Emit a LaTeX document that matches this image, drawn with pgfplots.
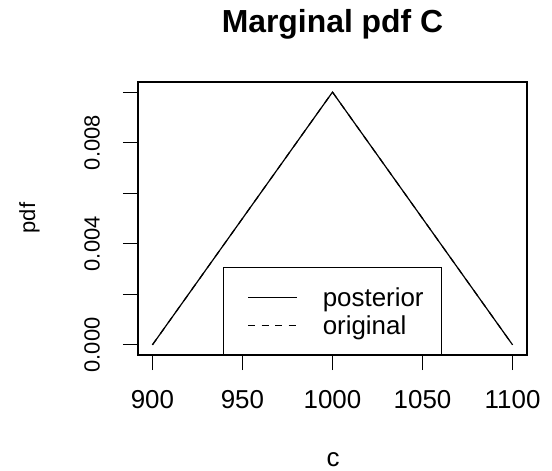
\documentclass[border=0pt]{standalone}
\usepackage{fontspec}
\setmainfont{Liberation Sans}
\usepackage{pgfplots}
\pgfplotsset{compat=1.18}
\newcommand{\fs}[1]{\fontsize{#1}{#1}\selectfont}
\begin{document}
\begin{tikzpicture}
\useasboundingbox (0,0) rectangle (552bp,471bp);
\begin{axis}[
    at={(138bp,116bp)}, anchor=south west,
    scale only axis, width=389bp, height=273bp,
    xmin=892, xmax=1108, ymin=-0.0004, ymax=0.0104,
    xtick={900,950,1000,1050,1100},
    xticklabels={900,950,1000,1050,1100},
    ytick={0,0.002,0.004,0.006,0.008,0.01},
    yticklabels={0.000,,0.004,,0.008,},
    scaled y ticks=false, scaled x ticks=false,
    /pgf/number format/assume math mode=true,
    axis line style={line width=1.1bp},
    every tick/.style={line width=1.1bp, black},
    tick align=outside, major tick length=15bp,
    xtick pos=bottom, ytick pos=left,
    xticklabel style={font=\fs{26}, anchor=north, inner sep=0pt},
    xticklabel shift=20bp,
    yticklabel style={font=\fs{22}, rotate=90, anchor=south, inner sep=0pt},
    yticklabel shift=23bp,
    legend style={at={(0.5,0)}, anchor=south, draw=black, line width=1.1bp,
        fill=white, inner xsep=0pt, inner ysep=15.5bp, row sep=0pt,
        font=\fs{26},
        cells={anchor=base west},
        nodes={inner sep=0pt, text width=119bp, text height=23.5bp, text depth=4.5bp},
        /tikz/every odd column/.append style={column sep=25bp}},
    legend image code/.code={
        \path[draw=none] (0bp,0bp) rectangle (74bp,9bp);
        \draw[#1] (25bp,9bp) -- (74bp,9bp);},
]
\addplot[black, line width=1.2bp] coordinates {(900,0) (1000,0.01) (1100,0)};
\addlegendentry{posterior}
\addplot[black, line width=1.2bp, dash pattern=on 7bp off 6.5bp] coordinates {(900,0) (1000,0.01) (1100,0)};
\addlegendentry{original}
\end{axis}
\node[anchor=base, font=\bfseries\fs{32}] at (332.5bp,438bp) {Marginal pdf C};
\node[anchor=base, font=\fs{26}] at (333bp,5bp) {c};
\node[anchor=base, rotate=90, font=\fs{22}] at (35bp,253bp) {pdf};
\end{tikzpicture}
\end{document}
